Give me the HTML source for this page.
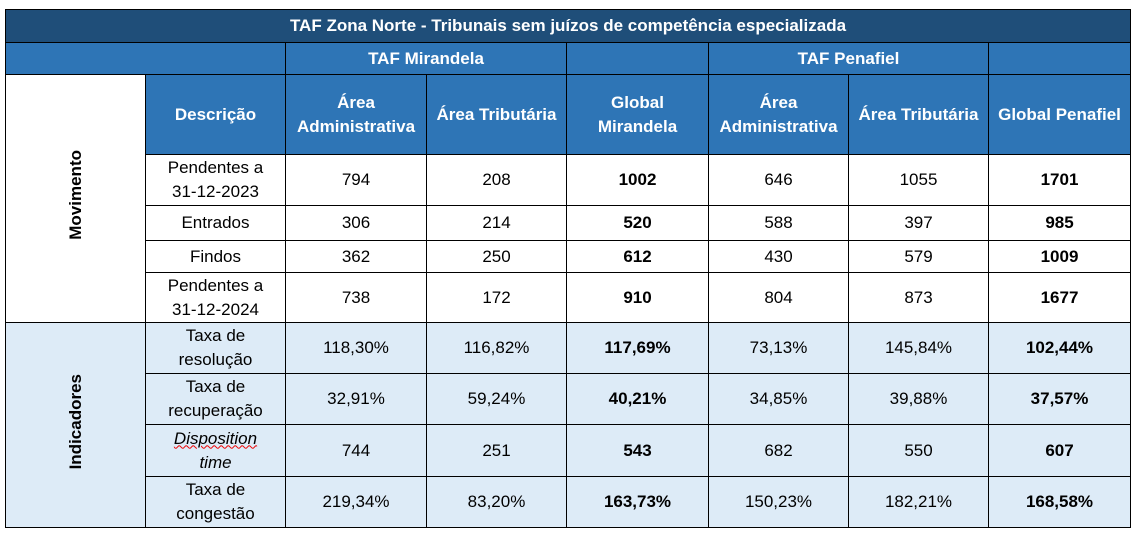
<!DOCTYPE html>
<html><head><meta charset="utf-8">
<style>
body{margin:0;width:1137px;height:535px;background:#fff;position:relative;overflow:hidden;font-family:"Liberation Sans",sans-serif;}
.c{position:absolute;box-sizing:border-box;border:1px solid #000;display:flex;align-items:center;justify-content:center;text-align:center;font-size:17px;line-height:24px;color:#000;}
.t{background:#1F4E79;color:#fff;font-weight:bold;}
.h{background:#2E75B6;color:#fff;font-weight:bold;}
.l{background:#DDEBF7;}
.b{font-weight:bold;}
.v{writing-mode:vertical-rl;transform:rotate(180deg);font-weight:bold;}
.sq{text-decoration:underline wavy #e00;text-decoration-thickness:1px;font-style:italic;}
</style></head><body>
<div id="tbl"></div>
<script>
const X=[5,145,285,426,566,708,848,988,1130];
const Y=[9,42,74,154,205,240,272,322,373,424,476,527];
const tbl=document.getElementById('tbl');
function cell(c0,c1,r0,r1,html,cls,name){
  const d=document.createElement('div');
  d.className='c '+cls;
  d.style.left=X[c0]+'px';d.style.top=Y[r0]+'px';
  d.style.width=(X[c1]-X[c0]+1)+'px';d.style.height=(Y[r1]-Y[r0]+1)+'px';
  d.innerHTML='<div>'+html+'</div>';
  
  
  tbl.appendChild(d);
}
cell(0,8,0,1,'TAF Zona Norte - Tribunais sem juízos de competência especializada','t','table-title');
cell(0,2,1,2,'','h','header-blank');
cell(2,4,1,2,'TAF Mirandela','h','header-taf-mirandela');
cell(4,5,1,2,'','h','header-blank-2');
cell(5,7,1,2,'TAF Penafiel','h','header-taf-penafiel');
cell(7,8,1,2,'','h','header-blank-3');
cell(0,1,2,7,'<span class="v">Movimento</span>','','movimento-label');
cell(0,1,7,11,'<span class="v">Indicadores</span>','l','indicadores-label');
const heads=['Descrição','Área<br>Administrativa','Área Tributária','Global<br>Mirandela','Área<br>Administrativa','Área Tributária','Global Penafiel'];
heads.forEach((h,i)=>cell(i+1,i+2,2,3,h,'h','column-header-'+(i+1)));
const desc=['Pendentes a<br>31-12-2023','Entrados','Findos','Pendentes a<br>31-12-2024','Taxa de<br>resolução','Taxa de<br>recuperação','<span class="sq">Disposition</span><br><i>time</i>','Taxa de<br>congestão'];
const vals=[
['794','208','1002','646','1055','1701'],
['306','214','520','588','397','985'],
['362','250','612','430','579','1009'],
['738','172','910','804','873','1677'],
['118,30%','116,82%','117,69%','73,13%','145,84%','102,44%'],
['32,91%','59,24%','40,21%','34,85%','39,88%','37,57%'],
['744','251','543','682','550','607'],
['219,34%','83,20%','163,73%','150,23%','182,21%','168,58%']];
desc.forEach((d,r)=>{
  const cls=r>=4?'l':'';
  cell(1,2,r+3,r+4,d,cls,'row-label-'+(r+1));
  vals[r].forEach((v,i)=>cell(i+2,i+3,r+3,r+4,v,cls+((i==2||i==5)?' b':''),'value-r'+(r+1)+'-c'+(i+1)));
});
</script>
</body></html>
